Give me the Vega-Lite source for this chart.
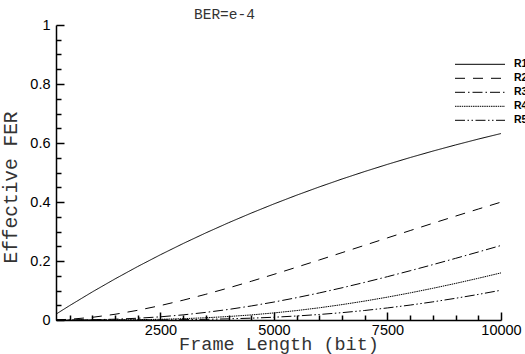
{
 "$schema": "https://vega.github.io/schema/vega-lite/v6.json",
 "width": 445,
 "height": 295,
 "autosize": {"type": "none"},
 "padding": {"left": 56, "top": 25, "right": 24, "bottom": 34},
 "background": "white",
 "title": {"text": "BER=e-4", "font": "Liberation Mono", "fontSize": 14.5, "fontWeight": "normal", "color": "#333", "anchor": "start", "frame": "group", "dx": 138, "baseline": "alphabetic", "offset": -16},
 "data": {"values": [
  {"L":200,"s":"R1","v":0.0198},{"L":500,"s":"R1","v":0.0488},{"L":1000,"s":"R1","v":0.0952},{"L":1500,"s":"R1","v":0.1393},{"L":2000,"s":"R1","v":0.1813},{"L":2500,"s":"R1","v":0.2212},{"L":3000,"s":"R1","v":0.2592},{"L":3500,"s":"R1","v":0.2953},{"L":4000,"s":"R1","v":0.3297},{"L":4500,"s":"R1","v":0.3624},{"L":5000,"s":"R1","v":0.3935},{"L":5500,"s":"R1","v":0.4231},{"L":6000,"s":"R1","v":0.4512},{"L":6500,"s":"R1","v":0.478},{"L":7000,"s":"R1","v":0.5034},{"L":7500,"s":"R1","v":0.5276},{"L":8000,"s":"R1","v":0.5507},{"L":8500,"s":"R1","v":0.5726},{"L":9000,"s":"R1","v":0.5934},{"L":9500,"s":"R1","v":0.6133},{"L":10000,"s":"R1","v":0.6321},
  {"L":200,"s":"R2","v":0.0004},{"L":500,"s":"R2","v":0.0024},{"L":1000,"s":"R2","v":0.0091},{"L":1500,"s":"R2","v":0.0194},{"L":2000,"s":"R2","v":0.0329},{"L":2500,"s":"R2","v":0.0489},{"L":3000,"s":"R2","v":0.0672},{"L":3500,"s":"R2","v":0.0872},{"L":4000,"s":"R2","v":0.1087},{"L":4500,"s":"R2","v":0.1313},{"L":5000,"s":"R2","v":0.1548},{"L":5500,"s":"R2","v":0.179},{"L":6000,"s":"R2","v":0.2036},{"L":6500,"s":"R2","v":0.2284},{"L":7000,"s":"R2","v":0.2534},{"L":7500,"s":"R2","v":0.2784},{"L":8000,"s":"R2","v":0.3032},{"L":8500,"s":"R2","v":0.3279},{"L":9000,"s":"R2","v":0.3522},{"L":9500,"s":"R2","v":0.3761},{"L":10000,"s":"R2","v":0.3996},
  {"L":200,"s":"R3","v":0},{"L":500,"s":"R3","v":0.0001},{"L":1000,"s":"R3","v":0.0009},{"L":1500,"s":"R3","v":0.0027},{"L":2000,"s":"R3","v":0.006},{"L":2500,"s":"R3","v":0.0108},{"L":3000,"s":"R3","v":0.0174},{"L":3500,"s":"R3","v":0.0258},{"L":4000,"s":"R3","v":0.0358},{"L":4500,"s":"R3","v":0.0476},{"L":5000,"s":"R3","v":0.0609},{"L":5500,"s":"R3","v":0.0757},{"L":6000,"s":"R3","v":0.0918},{"L":6500,"s":"R3","v":0.1092},{"L":7000,"s":"R3","v":0.1276},{"L":7500,"s":"R3","v":0.1469},{"L":8000,"s":"R3","v":0.167},{"L":8500,"s":"R3","v":0.1877},{"L":9000,"s":"R3","v":0.209},{"L":9500,"s":"R3","v":0.2306},{"L":10000,"s":"R3","v":0.2526},
  {"L":200,"s":"R4","v":0},{"L":500,"s":"R4","v":0},{"L":1000,"s":"R4","v":0.0001},{"L":1500,"s":"R4","v":0.0004},{"L":2000,"s":"R4","v":0.0011},{"L":2500,"s":"R4","v":0.0024},{"L":3000,"s":"R4","v":0.0045},{"L":3500,"s":"R4","v":0.0076},{"L":4000,"s":"R4","v":0.0118},{"L":4500,"s":"R4","v":0.0172},{"L":5000,"s":"R4","v":0.024},{"L":5500,"s":"R4","v":0.032},{"L":6000,"s":"R4","v":0.0414},{"L":6500,"s":"R4","v":0.0522},{"L":7000,"s":"R4","v":0.0642},{"L":7500,"s":"R4","v":0.0775},{"L":8000,"s":"R4","v":0.092},{"L":8500,"s":"R4","v":0.1075},{"L":9000,"s":"R4","v":0.124},{"L":9500,"s":"R4","v":0.1414},{"L":10000,"s":"R4","v":0.1597},
  {"L":200,"s":"R5","v":0},{"L":500,"s":"R5","v":0},{"L":1000,"s":"R5","v":0},{"L":1500,"s":"R5","v":0.0001},{"L":2000,"s":"R5","v":0.0002},{"L":2500,"s":"R5","v":0.0005},{"L":3000,"s":"R5","v":0.0012},{"L":3500,"s":"R5","v":0.0022},{"L":4000,"s":"R5","v":0.0039},{"L":4500,"s":"R5","v":0.0062},{"L":5000,"s":"R5","v":0.0094},{"L":5500,"s":"R5","v":0.0136},{"L":6000,"s":"R5","v":0.0187},{"L":6500,"s":"R5","v":0.0249},{"L":7000,"s":"R5","v":0.0323},{"L":7500,"s":"R5","v":0.0409},{"L":8000,"s":"R5","v":0.0506},{"L":8500,"s":"R5","v":0.0615},{"L":9000,"s":"R5","v":0.0736},{"L":9500,"s":"R5","v":0.0867},{"L":10000,"s":"R5","v":0.1009}
 ]},
 "mark": {"type": "line", "color": "black", "strokeWidth": 1},
 "encoding": {
  "x": {"field": "L", "type": "quantitative",
   "scale": {"domain": [200, 10000], "nice": false, "zero": false},
   "axis": {"title": "Frame Length (bit)", "values": [500,1000,1500,2000,2500,3000,3500,4000,4500,5000,5500,6000,6500,7000,7500,8000,8500,9000,9500,10000],
    "format": "d", "labelExpr": "datum.value % 2500 === 0 ? datum.label : ''",
    "labelPadding": 11, "labelFlush": false, "labelOverlap": false,
    "tickSize": {"condition": {"test": "datum.value % 2500 === 0", "value": -8}, "value": -5},
    "titleFontSize": 18.5,
    "titleX": 222.5, "titleY": 29.5, "titleBaseline": "alphabetic", "titleAlign": "center"}},
  "y": {"field": "v", "type": "quantitative",
   "scale": {"domain": [0, 1], "nice": false},
   "axis": {"title": "Effective FER", "values": [0,0.05,0.1,0.15,0.2,0.25,0.3,0.35,0.4,0.45,0.5,0.55,0.6,0.65,0.7,0.75,0.8,0.85,0.9,0.95,1],
    "format": "~g", "labelExpr": "abs(datum.value*5 - round(datum.value*5)) < 1e-6 ? datum.label : ''",
    "labelPadding": 14, "labelFlush": false, "labelOverlap": false,
    "tickSize": {"condition": {"test": "abs(datum.value*5 - round(datum.value*5)) < 1e-6", "value": -8}, "value": -5},
    "titleFontSize": 19.5,
    "titleAngle": 270, "titleX": -39.5, "titleY": 162, "titleBaseline": "alphabetic", "titleAlign": "center"}},
  "strokeDash": {"field": "s", "type": "nominal",
   "scale": {"domain": ["R1","R2","R3","R4","R5"], "range": [[1,0],[10,8],[10,3,1.5,3],[1.5,0.75],[10,2.5,1.5,2.5,1.5,2.5]]},
   "legend": {"title": null, "orient": "none", "legendX": 398.5, "legendY": 32.3, "padding": 0,
    "symbolType": "stroke", "symbolSize": 2500, "symbolStrokeColor": "black", "symbolStrokeWidth": 1,
    "clipHeight": 14,
    "labelFont": "Liberation Sans", "labelFontSize": 10.5, "labelFontWeight": "bold", "labelColor": "black",
    "labelOffset": 8.5, "rowPadding": 0}}
 },
 "config": {
  "view": {"stroke": null},
  "axis": {"grid": false, "domainColor": "black", "domainWidth": 1.5, "tickColor": "black", "tickWidth": 1.5,
   "labelFont": "Liberation Sans", "labelFontSize": 14.5, "labelColor": "black",
   "titleFont": "Liberation Mono", "titleFontSize": 18, "titleFontWeight": "normal", "titleColor": "#333"}
 }
}
